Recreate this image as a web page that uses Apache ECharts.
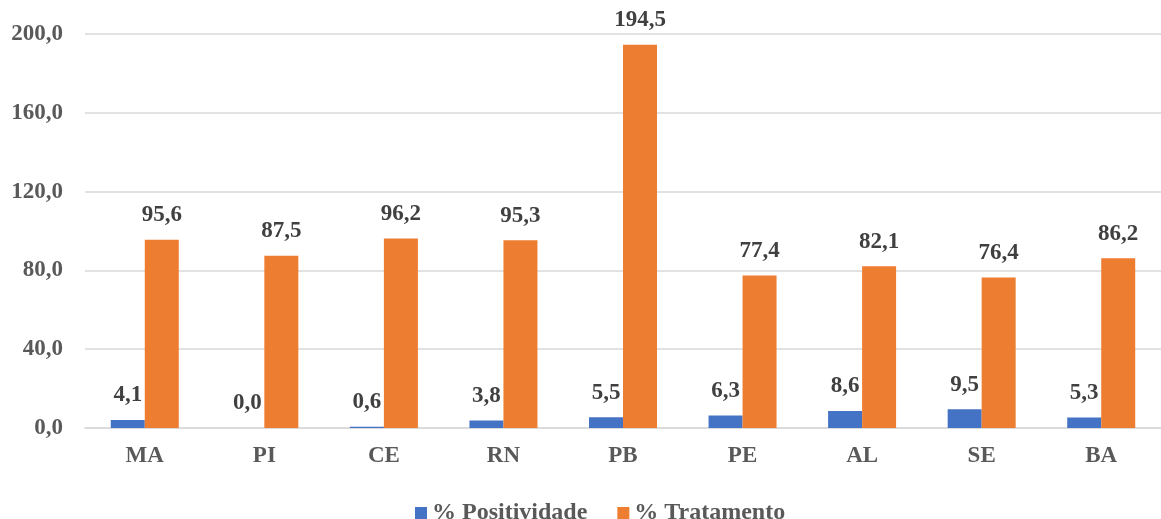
<!DOCTYPE html>
<html>
<head>
<meta charset="utf-8">
<script src="https://cdn.jsdelivr.net/npm/echarts@6/dist/echarts.min.js"></script>
<style>
  html, body { margin: 0; padding: 0; background: #ffffff; }
  #chart { width: 1161px; height: 519px; }
</style>
</head>
<body>
<div id="chart"></div>
<script>
// States (categories) and the two percentage series
const states = ['MA', 'PI', 'CE', 'RN', 'PB', 'PE', 'AL', 'SE', 'BA'];
const positividade = [4.1, 0.0, 0.6, 3.8, 5.5, 6.3, 8.6, 9.5, 5.3];
const tratamento = [95.6, 87.5, 96.2, 95.3, 194.5, 77.4, 82.1, 76.4, 86.2];
const seriesNames = ['% Positividade', '% Tratamento'];

const FONT = '"Liberation Serif", "Times New Roman", serif';
const fmt = v => Number(v).toFixed(1).replace('.', ',');

const chart = echarts.init(document.getElementById('chart'));

const valueLabel = {
  show: true,
  position: 'top',
  distance: 13,
  formatter: p => fmt(p.value),
  fontFamily: FONT,
  fontWeight: 'bold',
  fontSize: 23,
  color: '#404040'
};

chart.setOption({
  animation: false,
  backgroundColor: '#ffffff',
  grid: { left: 85, top: 34, bottom: 91, width: 1087, containLabel: false },
  legend: {
    data: seriesNames,
    top: 496,
    left: 410,
    icon: 'rect',
    itemWidth: 12,
    itemHeight: 12,
    itemGap: 30,
    textStyle: { fontFamily: FONT, fontWeight: 'bold', fontSize: 24, color: '#595959' }
  },
  xAxis: {
    type: 'category',
    data: states,
    axisTick: { show: false },
    axisLine: { lineStyle: { color: '#d9d9d9', width: 1.5 } },
    axisLabel: { margin: 17, fontFamily: FONT, fontWeight: 'bold', fontSize: 23, color: '#595959' }
  },
  yAxis: {
    type: 'value',
    min: 0,
    max: 200,
    interval: 40,
    axisLine: { show: false },
    axisTick: { show: false },
    splitLine: { lineStyle: { color: '#d9d9d9', width: 1.5 } },
    axisLabel: { margin: 22, formatter: v => fmt(v), fontFamily: FONT, fontWeight: 'bold', fontSize: 23, color: '#595959' }
  },
  series: [
    {
      name: seriesNames[0],
      type: 'bar',
      data: positividade,
      barWidth: 34,
      barGap: '0%',
      itemStyle: { color: '#4472C4' },
      label: valueLabel
    },
    {
      name: seriesNames[1],
      type: 'bar',
      data: tratamento,
      barWidth: 34,
      barGap: '0%',
      itemStyle: { color: '#ED7D31' },
      label: valueLabel
    }
  ]
});
</script>
</body>
</html>
